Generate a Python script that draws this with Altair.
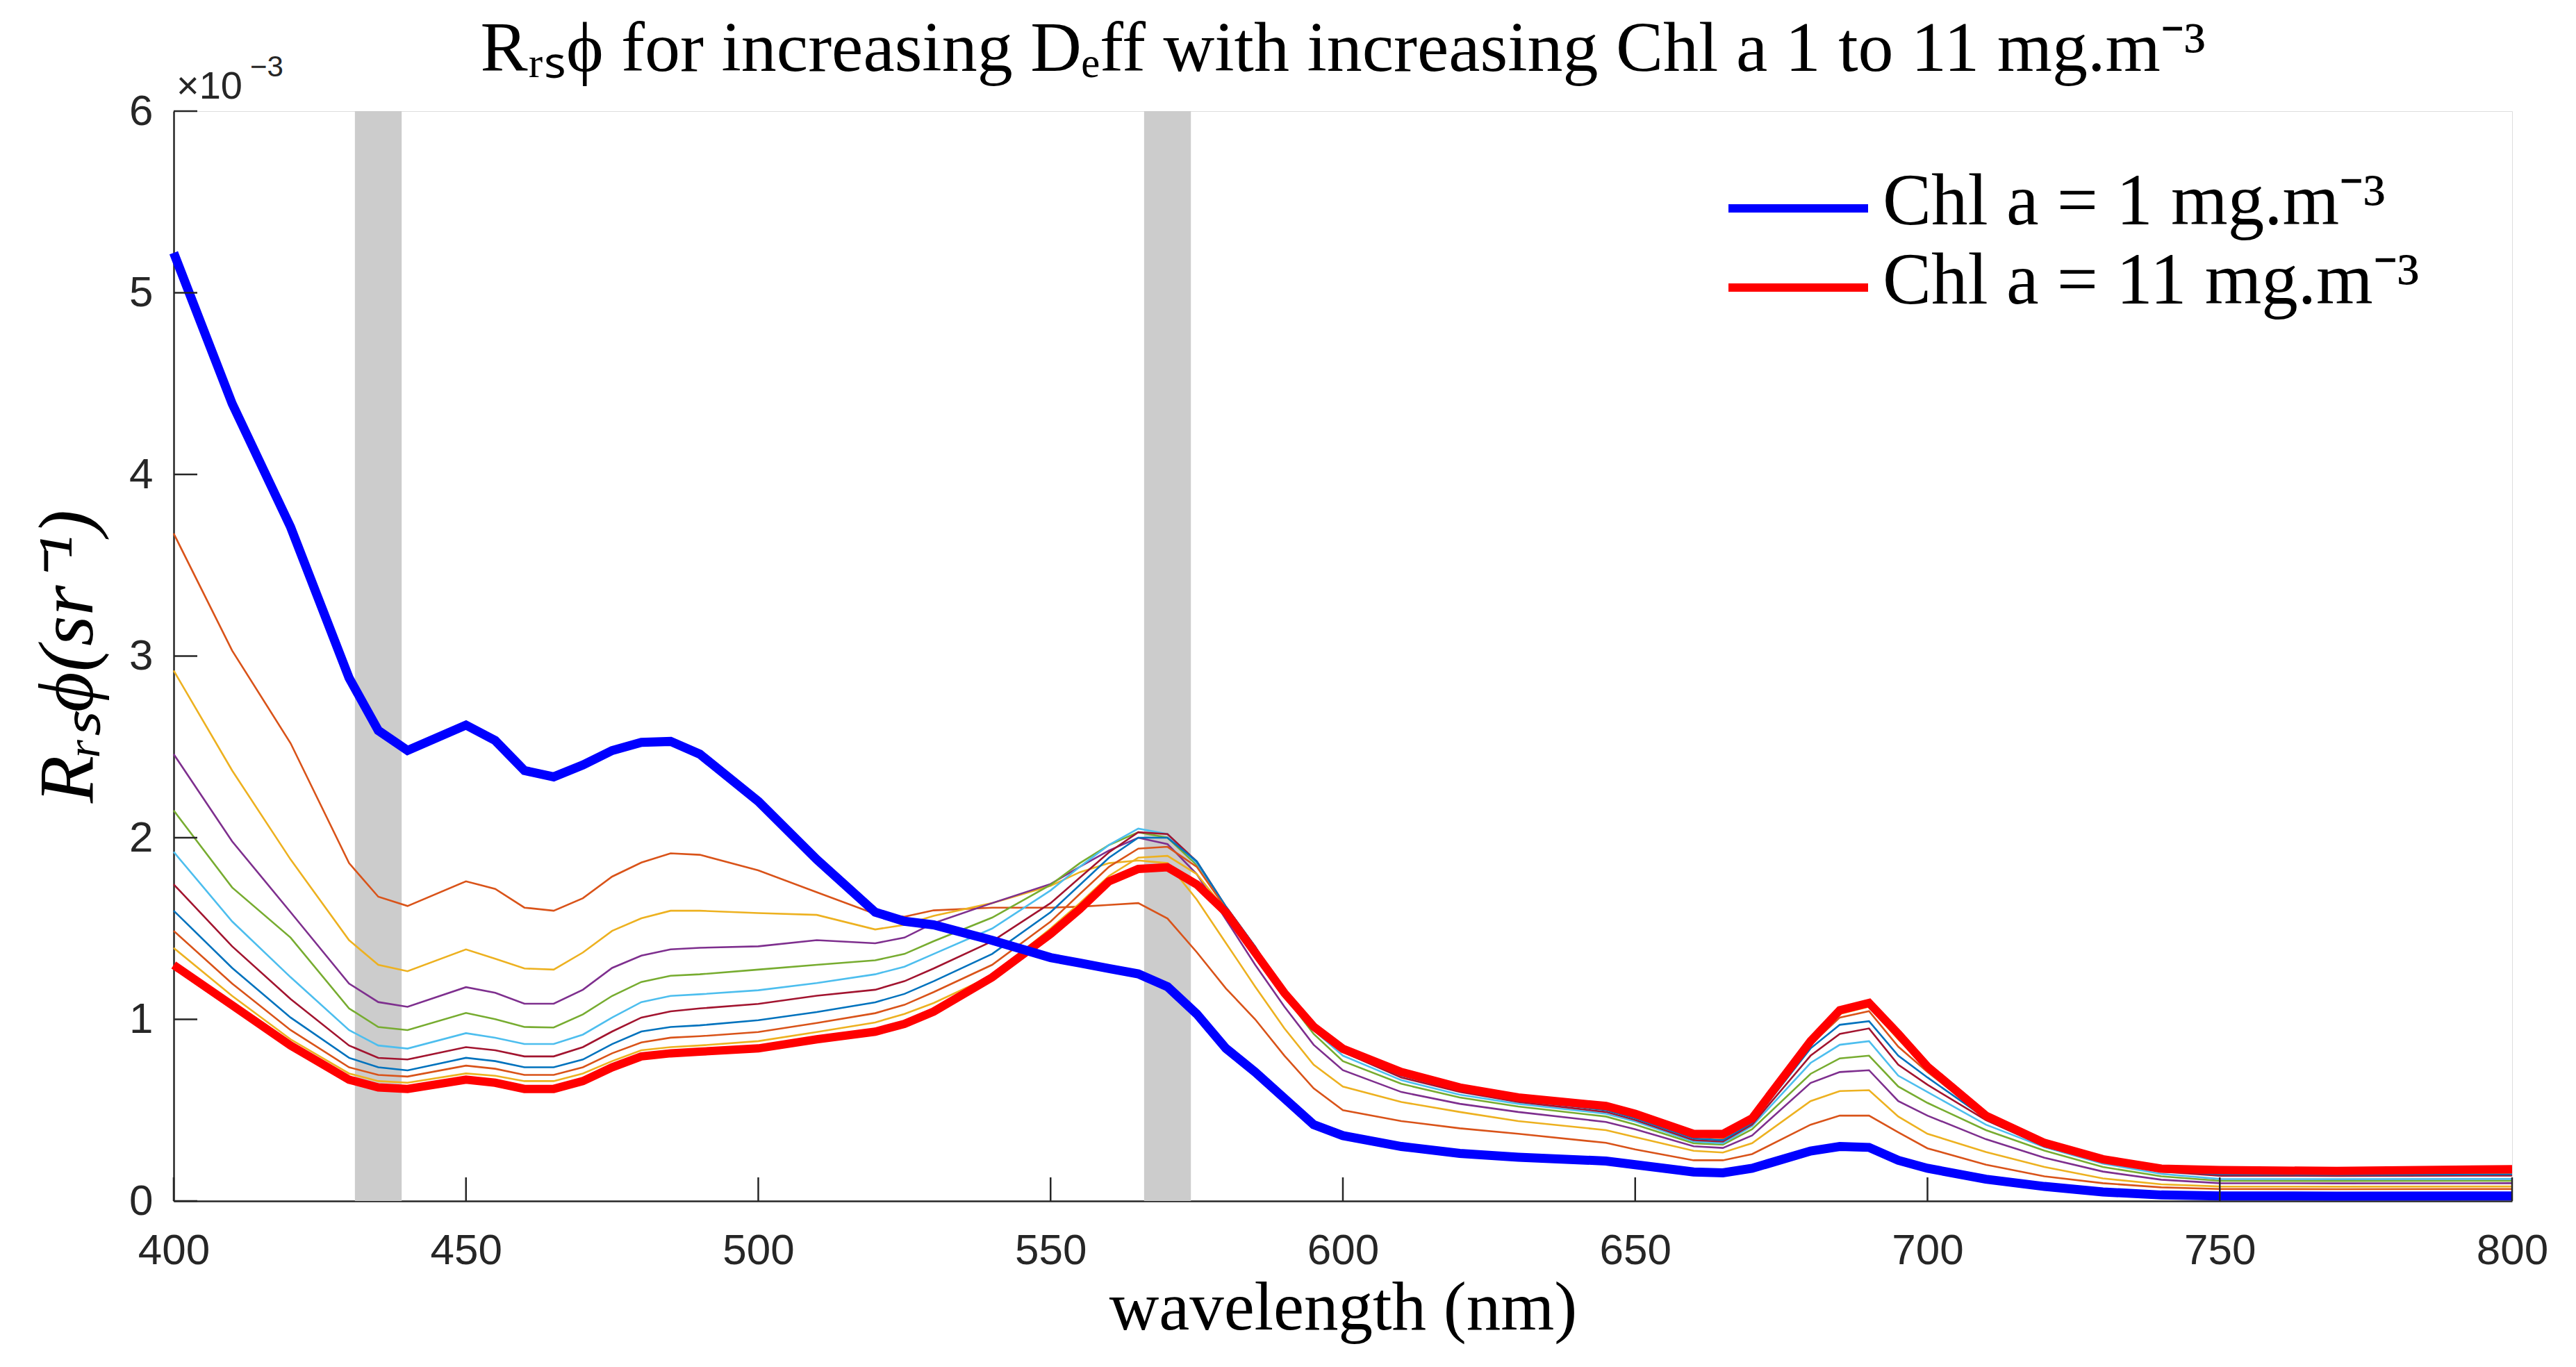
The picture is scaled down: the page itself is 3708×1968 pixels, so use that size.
import altair as alt
import pandas as pd

# wavelength grid (nm)
wl = [400, 410, 420, 430, 435, 440,
      450, 455, 460, 465, 470, 475, 480, 485, 490,
      500, 510, 520, 525, 530,
      540, 550, 555, 560, 565, 570, 575, 580, 585, 590, 595, 600,
      610, 620, 630, 645, 650,
      660, 665, 670, 680, 685, 690, 695, 700,
      710, 720, 730, 740, 750, 770, 800]

# Rrs*phi (x 1e-3 sr^-1), one list per Chl a level (1 .. 11 mg.m^-3)
chl1 = [5.22, 4.39, 3.71, 2.88, 2.59, 2.48,
        2.62, 2.535, 2.37, 2.335, 2.40, 2.48, 2.525, 2.53, 2.46,
        2.20, 1.88, 1.59, 1.54, 1.52,
        1.435, 1.34, 1.31, 1.28, 1.25, 1.18, 1.03, 0.84, 0.71, 0.565, 0.42, 0.36,
        0.30, 0.262, 0.241, 0.22, 0.20,
        0.16, 0.155, 0.18, 0.275, 0.30, 0.295, 0.224, 0.18,
        0.12, 0.08, 0.05, 0.033, 0.028, 0.027, 0.028]
chl2 = [3.675, 3.03, 2.52, 1.86, 1.675, 1.624,
        1.76, 1.718, 1.615, 1.598, 1.667, 1.786, 1.863, 1.914, 1.906,
        1.82, 1.70, 1.58, 1.565, 1.60,
        1.615, 1.615, 1.62, 1.63, 1.64, 1.555, 1.37, 1.17, 1.0, 0.80, 0.62, 0.50,
        0.44, 0.40, 0.37, 0.32, 0.284,
        0.224, 0.224, 0.258, 0.42, 0.47, 0.47, 0.378, 0.29,
        0.20, 0.136, 0.098, 0.075, 0.066, 0.065, 0.066]
chl3 = [2.92, 2.37, 1.88, 1.436, 1.30, 1.265,
        1.385, 1.334, 1.28, 1.274, 1.368, 1.487, 1.556, 1.598, 1.598,
        1.585, 1.575, 1.495, 1.52, 1.57,
        1.64, 1.735, 1.81, 1.86, 1.875, 1.86, 1.66, 1.42, 1.18, 0.95, 0.75, 0.63,
        0.545, 0.49, 0.44, 0.39, 0.352,
        0.276, 0.267, 0.318, 0.55, 0.605, 0.61, 0.465, 0.37,
        0.27, 0.187, 0.124, 0.092, 0.08, 0.079, 0.08]
chl4 = [2.46, 1.98, 1.59, 1.197, 1.095, 1.069,
        1.177, 1.146, 1.086, 1.086, 1.163, 1.283, 1.351, 1.385, 1.394,
        1.402, 1.436, 1.419, 1.45, 1.53,
        1.64, 1.745, 1.84, 1.93, 2.0, 1.965, 1.80, 1.55, 1.30, 1.07, 0.86, 0.72,
        0.60, 0.535, 0.49, 0.435, 0.395,
        0.301, 0.292, 0.361, 0.65, 0.71, 0.72, 0.55, 0.47,
        0.34, 0.238, 0.162, 0.117, 0.098, 0.097, 0.098]
chl5 = [2.15, 1.726, 1.45, 1.06, 0.958, 0.941,
        1.035, 1.001, 0.958, 0.955, 1.027, 1.129, 1.206, 1.24, 1.248,
        1.274, 1.30, 1.325, 1.36, 1.43,
        1.56, 1.74, 1.86, 1.96, 2.03, 2.0, 1.85, 1.61, 1.40, 1.13, 0.92, 0.77,
        0.645, 0.57, 0.52, 0.465, 0.421,
        0.318, 0.31, 0.395, 0.70, 0.785, 0.80, 0.63, 0.54,
        0.39, 0.277, 0.187, 0.136, 0.111, 0.11, 0.111]
chl6 = [1.922, 1.539, 1.232, 0.941, 0.856, 0.839,
        0.924, 0.899, 0.864, 0.864, 0.916, 1.01, 1.095, 1.129, 1.138,
        1.16, 1.20, 1.248, 1.29, 1.36,
        1.50, 1.71, 1.84, 1.96, 2.05, 2.02, 1.86, 1.62, 1.40, 1.14, 0.94, 0.80,
        0.665, 0.585, 0.535, 0.48, 0.438,
        0.327, 0.318, 0.412, 0.76, 0.86, 0.88, 0.69, 0.60,
        0.42, 0.296, 0.206, 0.149, 0.121, 0.12, 0.121]
chl7 = [1.743, 1.402, 1.112, 0.856, 0.788, 0.779,
        0.847, 0.83, 0.796, 0.796, 0.847, 0.933, 1.01, 1.044, 1.06,
        1.085, 1.13, 1.163, 1.21, 1.28,
        1.43, 1.64, 1.78, 1.92, 2.03, 2.02, 1.87, 1.62, 1.40, 1.145, 0.95, 0.82,
        0.68, 0.60, 0.545, 0.49, 0.446,
        0.335, 0.327, 0.421, 0.80, 0.92, 0.95, 0.75, 0.64,
        0.445, 0.30, 0.219, 0.162, 0.139, 0.138, 0.14]
chl8 = [1.598, 1.283, 1.01, 0.788, 0.736, 0.719,
        0.788, 0.77, 0.736, 0.736, 0.779, 0.864, 0.933, 0.958, 0.967,
        0.995, 1.04, 1.094, 1.14, 1.21,
        1.36, 1.59, 1.74, 1.89, 2.0, 2.0, 1.87, 1.62, 1.40, 1.145, 0.95, 0.83,
        0.69, 0.61, 0.555, 0.50, 0.455,
        0.344, 0.335, 0.43, 0.84, 0.97, 0.99, 0.80, 0.68,
        0.455, 0.31, 0.226, 0.168, 0.146, 0.145, 0.147]
chl9 = [1.487, 1.197, 0.941, 0.736, 0.694, 0.685,
        0.745, 0.728, 0.694, 0.694, 0.736, 0.813, 0.873, 0.899, 0.907,
        0.93, 0.98, 1.034, 1.08, 1.15,
        1.30, 1.538, 1.69, 1.84, 1.94, 1.95, 1.84, 1.61, 1.39, 1.145, 0.955, 0.835,
        0.70, 0.615, 0.56, 0.51, 0.465,
        0.355, 0.345, 0.437, 0.86, 1.01, 1.045, 0.85, 0.71,
        0.46, 0.315, 0.226, 0.174, 0.155, 0.154, 0.156]
chl10 = [1.393, 1.129, 0.89, 0.702, 0.66, 0.651,
         0.702, 0.689, 0.66, 0.66, 0.702, 0.77, 0.83, 0.847, 0.856,
         0.88, 0.93, 0.983, 1.03, 1.09,
         1.24, 1.50, 1.64, 1.79, 1.89, 1.90, 1.80, 1.60, 1.38, 1.145, 0.96, 0.837,
         0.70, 0.62, 0.565, 0.515, 0.472,
         0.36, 0.352, 0.445, 0.87, 1.03, 1.07, 0.89, 0.73,
         0.465, 0.316, 0.222, 0.175, 0.164, 0.162, 0.166]
chl11 = [1.299, 1.078, 0.856, 0.668, 0.625, 0.617,
         0.668, 0.651, 0.617, 0.617, 0.66, 0.736, 0.796, 0.813, 0.822,
         0.84, 0.89, 0.932, 0.975, 1.043,
         1.231, 1.47, 1.607, 1.76, 1.828, 1.837, 1.743, 1.589, 1.367, 1.145, 0.96, 0.838,
         0.71, 0.625, 0.57, 0.523, 0.48,
         0.369, 0.369, 0.455, 0.88, 1.05, 1.09, 0.92, 0.74,
         0.47, 0.32, 0.23, 0.178, 0.17, 0.165, 0.175]

# matlab default colour order for the intermediate curves (Chl 2 .. 10)
thin_colors = ["#D95319", "#EDB120", "#7E2F8E", "#77AC30", "#4DBEEE",
               "#A2142F", "#0072BD", "#D95319", "#EDB120"]
legend_labels = ["Chl a = 1 mg.m\u207b\u00b3", "Chl a = 11 mg.m\u207b\u00b3"]
legend_colors = ["#0000FF", "#FF0000"]

# shaded bands (nm)
band_lo = [431, 566]
band_hi = [439, 574]

ticks_x = [400, 450, 500, 550, 600, 650, 700, 750, 800]
ticks_y = [0, 1, 2, 3, 4, 5, 6]

W, H = 3366, 1569
SERIF = "Liberation Serif"
SANS = "Liberation Sans"

all_series = [chl1, chl2, chl3, chl4, chl5, chl6, chl7, chl8, chl9, chl10, chl11]
rows = []
for k, vals in enumerate(all_series, start=1):
    for w, v in zip(wl, vals):
        rows.append({"wl": w, "v": v, "chl": f"{k:02d}"})
df = pd.DataFrame(rows)

thin_df = df[(df["chl"] != "01") & (df["chl"] != "11")].copy()
thin_df["hex"] = thin_df["chl"].map({f"{k:02d}": c for k, c in zip(range(2, 11), thin_colors)})
blue_df = df[df["chl"] == "01"]
red_df = df[df["chl"] == "11"]
bands = pd.DataFrame({"lo": band_lo, "hi": band_hi})

xs = alt.Scale(domain=[400, 800], nice=False, zero=False)
ys = alt.Scale(domain=[0, 6], nice=False, zero=True)

x_axis = alt.Axis(values=ticks_x, format="d", tickSize=0, grid=False,
                  labelFont=SANS, labelFontSize=62, labelColor="#262626",
                  labelPadding=41, labelFlush=False,
                  domainColor="#262626", domainWidth=2.5,
                  title="wavelength (nm)", titleFont=SERIF, titleFontSize=99,
                  titleFontWeight="normal", titleColor="black",
                  titleX=W / 2, titleY=184, titleAlign="center",
                  titleBaseline="alphabetic")
y_axis = alt.Axis(values=ticks_y, format="d", tickSize=0, grid=False,
                  labelFont=SANS, labelFontSize=62, labelColor="#262626",
                  labelPadding=30, labelFlush=False,
                  domainColor="#262626", domainWidth=2.5,
                  title="R\u1d63\u209b\u03d5(sr\u207b\u00b9)", titleFont=SERIF,
                  titleFontSize=112, titleFontStyle="italic",
                  titleFontWeight="normal", titleColor="black",
                  titleAngle=270, titleX=-152, titleY=H / 2,
                  titleAlign="center", titleBaseline="middle")

band_layer = alt.Chart(bands).mark_rect(color="#CCCCCC").encode(
    x=alt.X("lo:Q", scale=xs, axis=x_axis),
    x2="hi:Q",
    y=alt.value(0),
    y2=alt.value(H),
)

thin_layer = alt.Chart(thin_df).mark_line(strokeWidth=2.6).encode(
    x=alt.X("wl:Q", scale=xs, axis=x_axis),
    y=alt.Y("v:Q", scale=ys, axis=y_axis),
    color=alt.value("#000000"),
    stroke=alt.Stroke("hex:N", scale=None),
    detail="chl:N",
)

red_layer = alt.Chart(red_df).mark_line(strokeWidth=12, color=legend_colors[1]).encode(
    x=alt.X("wl:Q", scale=xs, axis=x_axis),
    y=alt.Y("v:Q", scale=ys, axis=y_axis),
)
blue_layer = alt.Chart(blue_df).mark_line(strokeWidth=13, color=legend_colors[0]).encode(
    x=alt.X("wl:Q", scale=xs, axis=x_axis),
    y=alt.Y("v:Q", scale=ys, axis=y_axis),
)

# matlab style ticks pointing into the axes
xtick_layer = alt.Chart(pd.DataFrame({"t": ticks_x})).mark_rule(
    color="#262626", strokeWidth=2.5).encode(
    x=alt.X("t:Q", scale=xs, axis=x_axis),
    y=alt.value(H),
    y2=alt.value(H - 34),
)
ytick_layer = alt.Chart(pd.DataFrame({"t": ticks_y})).mark_rule(
    color="#262626", strokeWidth=2.5).encode(
    y=alt.Y("t:Q", scale=ys, axis=y_axis),
    x=alt.value(0),
    x2=alt.value(34),
)

# legend box (top right, no frame)
leg_layers = []
for lab, col, ly in zip(legend_labels, legend_colors, [140, 254]):
    leg_layers.append(
        alt.Chart(pd.DataFrame({"s": [lab]})).mark_rule(color=col, strokeWidth=12).encode(
            x=alt.value(2238), x2=alt.value(2439), y=alt.value(ly)))
    leg_layers.append(
        alt.Chart(pd.DataFrame({"s": [lab]})).mark_text(
            font=SERIF, fontSize=105, color="black", align="left",
            baseline="alphabetic").encode(
            text="s:N", x=alt.value(2460), y=alt.value(ly + 23)))

# exponent shown above the y axis
exp_base = alt.Chart(pd.DataFrame({"s": ["\u00d710"]})).mark_text(
    font=SANS, fontSize=56, color="#262626", align="left", baseline="middle").encode(
    text="s:N", x=alt.value(4), y=alt.value(-35))
exp_pow = alt.Chart(pd.DataFrame({"s": ["\u22123"]})).mark_text(
    font=SANS, fontSize=42, color="#262626", align="left", baseline="middle").encode(
    text="s:N", x=alt.value(110), y=alt.value(-63))

chart = alt.layer(
    band_layer, thin_layer, red_layer, blue_layer, xtick_layer, ytick_layer,
    *leg_layers, exp_base, exp_pow,
).properties(
    width=W,
    height=H,
    autosize=alt.AutoSizeParams(type="none"),
    padding={"left": 242, "top": 152, "right": 84, "bottom": 231},
    title=alt.TitleParams(
        text="R\u1d63\u209b\u03d5 for increasing D\u2091ff with increasing Chl a 1 to 11 mg.m\u207b\u00b3",
        font=SERIF, fontSize=102, fontWeight="normal", color="black",
        anchor="middle", frame="group", baseline="alphabetic", offset=-128,
    ),
).configure_view(stroke=None).configure(background="white")

chart.save("out.html", embed_options={"renderer": "svg", "actions": False})
